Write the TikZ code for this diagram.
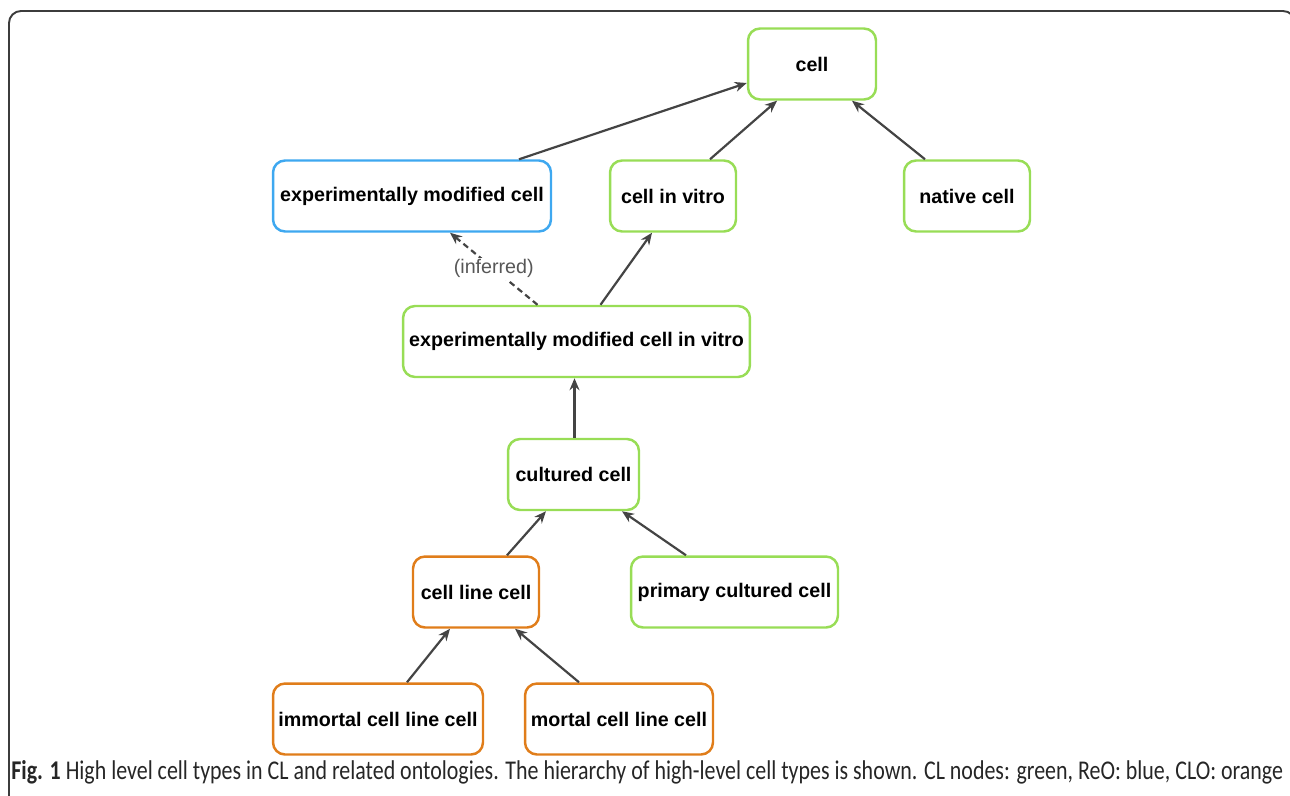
\documentclass[tikz,border=0pt]{standalone}
\usepackage{fontspec, graphicx}
\setmainfont{Liberation Sans}
\newfontfamily\capfont{Carlito}
\usetikzlibrary{arrows.meta}
\definecolor{clgreen}{RGB}{152,221,86}
\definecolor{reoblue}{RGB}{62,168,240}
\definecolor{cloorange}{RGB}{224,125,26}
\definecolor{arrowgray}{RGB}{68,68,68}
\definecolor{framegray}{RGB}{60,60,60}

\begin{document}
\begin{tikzpicture}[x=0.02cm, y=-0.02cm,
  box/.style={draw, rounded corners=0.24cm, line width=1.4pt, fill=white, inner sep=0pt,
    minimum height=1.42cm, font=\fontsize{11.2}{13}\selectfont\bfseries},
  clnode/.style={box, draw=clgreen},
  reonode/.style={box, draw=reoblue},
  clonode/.style={box, draw=cloorange},
  isa/.style={draw=arrowgray, line width=1.25pt, -{Stealth[length=0.24cm, width=0.2cm]}}]
\useasboundingbox (0,0) rectangle (1290,795);
\draw[framegray, line width=1.1pt, rounded corners=0.24cm] (9,800) -- (9,11) -- (1295,11) -- (1295,800);

\node[clnode, minimum width=2.56cm] (cell) at (812,64) {cell};
\node[reonode, minimum width=5.56cm] (emc) at (412,196) {experimentally modified cell};
\node[clnode, minimum width=2.52cm] (civ) at (673,196) {cell in vitro};
\node[clnode, minimum width=2.52cm] (native) at (967,196) {native cell};
\node[clnode, minimum width=6.94cm] (emciv) at (576.5,341.5) {experimentally modified cell in vitro};
\node[clnode, minimum width=2.62cm] (cultured) at (573.5,474.5) {cultured cell};
\node[clonode, minimum width=2.52cm] (cellline) at (476,592) {cell line cell};
\node[clnode, minimum width=4.14cm] (primary) at (734.5,592) {primary cultured cell};
\node[clonode, minimum width=4.2cm] (immortal) at (378,719) {immortal cell line cell};
\node[clonode, minimum width=3.76cm] (mortal) at (619,719) {mortal cell line cell};

\draw[isa] ([xshift=2.14cm]emc.north) -- ([yshift=-0.38cm]cell.west);
\draw[isa] ([xshift=0.74cm]civ.north) -- ([xshift=-0.7cm]cell.south);
\draw[isa] ([xshift=-0.84cm]native.north) -- ([xshift=0.8cm]cell.south);
\draw[isa, dash pattern=on 0.12cm off 0.08cm] ([xshift=-0.78cm]emciv.north) -- ([xshift=0.76cm]emc.south)
  node[midway, fill=white, inner sep=1pt, text=arrowgray!90, font=\fontsize{11.2}{13}\selectfont] (inf) {(inferred)};
\draw[isa] ([xshift=0.48cm]emciv.north) -- ([xshift=-0.42cm]civ.south);
\draw[isa] ([xshift=0.02cm]cultured.north) -- ([xshift=0.02cm]cultured.north |- emciv.south);
\draw[isa] ([xshift=0.62cm]cellline.north) -- ([xshift=-0.55cm]cultured.south);
\draw[isa] ([xshift=-0.97cm]primary.north) -- ([xshift=0.97cm]cultured.south);
\draw[isa] ([xshift=0.58cm]immortal.north) -- ([xshift=-0.52cm]cellline.south);
\draw[isa] ([xshift=-0.8cm]mortal.north) -- ([xshift=0.78cm]cellline.south);

\node[anchor=base west, inner sep=0pt, text=black!85] (caption) at (11,779)
  {\resizebox{25.44cm}{0.38cm}{\capfont\textbf{Fig. 1} High level cell types in CL and related ontologies. The hierarchy of high-level cell types is shown. CL nodes: green, ReO: blue, CLO: orange}};
\end{tikzpicture}
\end{document}
